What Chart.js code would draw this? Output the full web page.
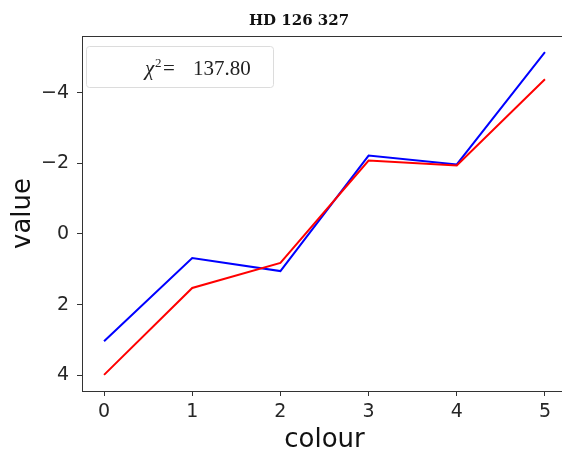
<!DOCTYPE html>
<html>
<head>
<meta charset="utf-8">
<script src="https://cdn.jsdelivr.net/npm/chart.js@4/dist/chart.umd.min.js"></script>
<style>
  html, body { margin: 0; padding: 0; background: #fff; overflow: hidden; }
  #wrap { position: relative; width: 562px; height: 451px; overflow: hidden; }
  #box { position: absolute; left: 0; top: 0; width: 590px; height: 451px; }
</style>
</head>
<body>
<div id="wrap"><div id="box"><canvas id="chart"></canvas></div></div>
<script>
// chart data
const colourIdx = [0, 1, 2, 3, 4, 5];
const blueValues = [3.04, 0.68, 1.05, -2.22, -1.97, -5.15];
const redValues = [3.99, 1.53, 0.82, -2.08, -1.94, -4.38];
const xTicks = [0, 1, 2, 3, 4, 5];
const yTicks = [-4, -2, 0, 2, 4];
const titleText = 'HD 126 327';
const chiValue = '137.80';

const tickFont = { family: 'DejaVu Sans', size: 19 };
const labelFont = { family: 'DejaVu Sans', size: 26 };
const ink = '#262626';

// matplotlib-like 5% margins
const allY = blueValues.concat(redValues);
const yLo = Math.min(...allY), yHi = Math.max(...allY);
const yPad = (yHi - yLo) * 0.05;

function fmt(v) {
    return v < 0 ? '\u2212' + Math.abs(v) : String(v);
}

// title, top spine and the chi^2 box
const extras = {
    id: 'extras',
    afterDraw(chart) {
        const ctx = chart.ctx;
        const a = chart.chartArea;
        ctx.save();
        ctx.strokeStyle = '#333';
        ctx.lineWidth = 1;
        ctx.beginPath();
        ctx.moveTo(a.left, a.top + 0.5);
        ctx.lineTo(a.right, a.top + 0.5);
        ctx.stroke();

        ctx.fillStyle = '#111';
        ctx.font = 'bold 15px "DejaVu Serif"';
        ctx.textAlign = 'center';
        ctx.textBaseline = 'alphabetic';
        ctx.fillText(titleText, 299, 25);

        // legend frame
        ctx.strokeStyle = '#dcdcdc';
        ctx.fillStyle = 'rgba(255,255,255,0.8)';
        ctx.beginPath();
        ctx.roundRect(86.5, 46.5, 187, 41, 3);
        ctx.fill();
        ctx.stroke();

        ctx.fillStyle = '#222';
        ctx.textAlign = 'left';
        ctx.font = 'italic 21px "Liberation Serif"';
        ctx.fillText('\u03c7', 145, 75);
        ctx.font = '13px "Liberation Serif"';
        ctx.fillText('2', 155, 67);
        ctx.font = '21px "Liberation Serif"';
        ctx.fillText('=', 163, 75);
        ctx.fillText(chiValue, 193, 75);
        ctx.restore();
    }
};

new Chart(document.getElementById('chart'), {
    type: 'line',
    data: {
        datasets: [
            {
                data: colourIdx.map((x, i) => ({ x: x, y: redValues[i] })),
                borderColor: '#ff0000',
                borderWidth: 2,
                pointRadius: 0,
                tension: 0,
                fill: false
            },
            {
                data: colourIdx.map((x, i) => ({ x: x, y: blueValues[i] })),
                borderColor: '#0000ff',
                borderWidth: 2,
                pointRadius: 0,
                tension: 0,
                fill: false
            }
        ]
    },
    plugins: [extras],
    options: {
        responsive: true,
        maintainAspectRatio: false,
        animation: false,
        layout: { padding: { top: 36, right: 23, left: 0, bottom: 0 } },
        plugins: {
            legend: { display: false },
            tooltip: { enabled: false },
            title: { display: false }
        },
        scales: {
            x: {
                type: 'linear',
                min: -0.25,
                max: 5.25,
                afterBuildTicks: s => { s.ticks = xTicks.map(v => ({ value: v })); },
                afterFit: s => { s.height = 60; },
                grid: { drawOnChartArea: false, drawTicks: true, tickLength: 5, color: '#333' },
                border: { display: true, color: '#333', width: 1 },
                ticks: { color: ink, font: tickFont, padding: 5, maxRotation: 0, callback: v => fmt(v) },
                title: { display: true, text: 'colour', color: '#111', font: labelFont, padding: { top: 0, bottom: -5 } }
            },
            y: {
                type: 'linear',
                reverse: true,
                min: yLo - yPad,
                max: yHi + yPad,
                afterBuildTicks: s => { s.ticks = yTicks.map(v => ({ value: v })); },
                afterFit: s => { s.width = 82; },
                grid: { drawOnChartArea: false, drawTicks: true, tickLength: 5, color: '#333' },
                border: { display: true, color: '#333', width: 1 },
                ticks: { color: ink, font: tickFont, padding: 8, callback: v => fmt(v) },
                title: { display: true, text: 'value', color: '#111', font: labelFont, padding: { top: 8, bottom: 0 } }
            }
        }
    }
});
</script>
</body>
</html>
